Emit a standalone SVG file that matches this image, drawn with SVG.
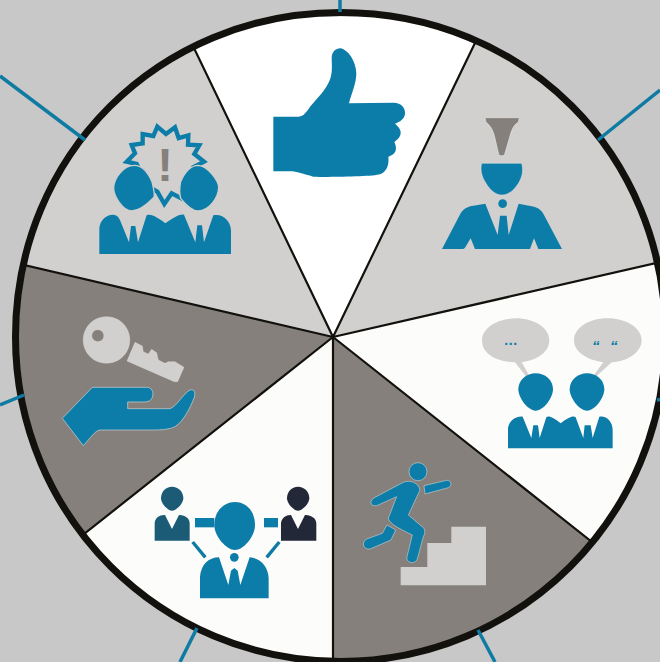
<svg xmlns="http://www.w3.org/2000/svg" width="660" height="662" viewBox="0 0 660 662">
<style>
.t{fill:#0b7da8}
.h{stroke:#e4e4e4;stroke-width:1.5}
.g{fill:#d1d0ce}
.d{fill:#85807b}
.sp{stroke:#12110d;stroke-width:2.2;fill:none}
.sk{stroke:#0f7ba3;stroke-width:3.5;fill:none}
.lab{font-family:'Liberation Sans',sans-serif;font-weight:700}
</style>
<defs>
<clipPath id="disc"><path d="M15.500 337C15.500 155.300 158.500 12.500 340.500 12.500C524.100 12.500 665.500 153.700 665.500 337C665.500 516.200 520 661.500 340.500 661.500C161 661.500 15.500 516.200 15.500 337Z"/></clipPath>
</defs>
<rect width="660" height="662" fill="#c8c8c8"/>
<g id="wheel">
<g clip-path="url(#disc)">
<path d="M333 337L180 19L489 14Z" fill="#fff"/>
<path d="M333 337L489 14L687 0V256Z" fill="#d1d0ce"/>
<path d="M333 337L687 256V561H616Z" fill="#fcfcfa"/>
<path d="M333 337L616 561V680H333Z" fill="#85807b"/>
<path d="M333 337V680H60V553Z" fill="#fcfcfa"/>
<path d="M333 337L60 553H-6V258Z" fill="#85807b"/>
<path d="M333 337L-6 258V0H180V19Z" fill="#d1d0ce"/>
<path class="sp" d="M333 337L180 19M333 337L489 14M333 337L687 256M333 337L616 561M333 337V680M333 337L60 553M333 337L-6 258"/>
</g>
<path d="M15.500 337C15.500 155.300 158.500 12.500 340.500 12.500C524.100 12.500 665.500 153.700 665.500 337C665.500 516.200 520 661.500 340.500 661.500C161 661.500 15.500 516.200 15.500 337Z" fill="none" stroke="#12110d" stroke-width="7"/>
</g>
<g id="connectors">
<path class="sk" d="M340 0V12M598 140L660 90M657 400L660 399.500M478 630L495 662M197 628L180 662M24 395L0 405M85 140L0 76"/>
</g>
<g id="node-thumb" transform="translate(260 40) scale(.3333)">
<path class="t" d="M40 230H115C128 230 135 222 145 208C165 180 190 160 205 130C218 105 216 85 215 55C215 35 228 24 243 25C262 30 288 60 289 100C289 130 275 160 267 190L400 188C425 188 437 205 435 222C433 238 420 245 405 251C418 262 425 272 421 285C418 295 410 300 403 306C410 320 410 335 400 342C395 346 390 348 385 350C388 375 380 395 360 403C340 410 200 412 160 410C130 402 110 394 90 394H40Z"/>
</g>
<g id="node-funnel" transform="translate(430 105) scale(.3333)">
<path class="d" d="M165 38H268L265 52C250 60 245 75 238 100L224 148C220 154 210 154 206 148L195 100C190 75 180 60 168 52Z" stroke="#e4e4e4" stroke-width="2"/>
<path class="t h" d="M155 175H275C282 200 275 225 258 245C240 268 225 270 212 270C195 268 180 255 168 235C155 215 150 195 155 175Z"/>
<circle class="t" cx="218" cy="296" r="13"/>
<path class="t" d="M36 432L92 325C100 310 115 304 130 302L166 296L203 390L210 332H230L236 390L266 296L305 304C325 308 335 316 342 330L396 432H325L312 400L300 432H135L122 400L105 428C102 432 98 432 92 432Z"/>
</g>
<g id="node-talk" transform="translate(470 310) scale(.3333)">
<path class="g" d="M135 157C75 155 36 130 36 91C36 55 80 25 137 25C195 25 238 55 238 91C238 125 205 150 155 157L180 200L172 204Z"/>
<path class="g" d="M400 157C350 150 312 125 312 91C312 55 355 25 412 25C470 25 515 55 515 91C515 125 475 155 425 157L376 202L368 200Z"/>
<path class="t" d="M197 190C225 190 249 210 249 238C249 262 222 302 197 302C172 302 145 262 145 238C145 210 170 190 197 190Z"/>
<path class="t" d="M351 190C379 190 403 210 403 238C403 262 376 302 351 302C326 302 299 262 299 238C299 210 324 190 351 190Z"/>
<path class="t" d="M114 415V355C116 335 135 318 158 320L184 384L190 346H204L209 384L229 322C235 316 250 322 272 340C295 322 310 316 317 322L340 384L344 346H362L368 384L388 320C410 316 428 335 428 360V415Z"/>
</g>
<text class="lab" x="511" y="345" font-size="14" letter-spacing="0.600" fill="#0b7da8" text-anchor="middle">...</text>
<text class="lab" x="592 610" y="351" font-size="15" font-style="italic" fill="#0b7da8">““</text>
<g id="node-run" transform="translate(355 455) scale(.3333)">
<circle class="t h" cx="189" cy="50" r="27"/>
<path class="t h" stroke-linejoin="round" d="M58 128L145 82C165 74 190 82 195 105L160 180L205 218C212 226 210 235 205 245L187 312C182 326 160 328 155 310L172 240C120 215 105 205 100 190L125 125L65 152C45 155 42 138 58 128Z"/>
<path class="t h" d="M207 92L275 76C290 75 292 92 280 98L210 117Z"/>
<path class="t h" d="M96 210L122 225L108 255L45 282C25 285 18 262 35 252L82 235Z"/>
<path class="g" d="M137 336H217V264H289V215H393V391H137Z"/>
</g>
<g id="node-people" transform="translate(145 480) scale(.3333)">
<path fill="#1b5b76" d="M81 20C100 20 115 35 115 55C115 70 95 92 81 92C67 92 48 70 48 55C48 35 62 20 81 20Z"/>
<path fill="#1b5b76" d="M29 182V130C30 112 45 104 60 105L81 147L102 105C120 104 134 115 134 130V182Z"/>
<path fill="#232838" d="M459 20C478 20 493 35 493 55C493 70 473 92 459 92C445 92 426 70 426 55C426 35 440 20 459 20Z"/>
<path fill="#232838" d="M408 182V130C410 112 425 104 438 105L459 147L480 105C498 104 514 115 514 130V182Z"/>
<path class="t" d="M150 114H208V142H150Z"/>
<path class="t" d="M357 114H399V142H357Z"/>
<path class="sk" style="stroke-width:10" d="M143 186L181 232M403 186L365 232"/>
<path class="t" d="M270 66C305 66 330 95 330 135C330 170 295 210 270 210C245 210 208 170 208 135C208 95 235 66 270 66Z"/>
<circle class="t" cx="268" cy="232" r="13"/>
<path class="t" d="M165 355V290C168 255 190 232 222 232L250 315L258 272L268 264L278 272L286 315L314 232C345 234 370 260 371 295V355Z"/>
</g>
<g id="node-alert" transform="translate(80 110) scale(.3333)">
<path d="M232 50L258 72L285 52L296 84L325 76L324 104L358 106L343 132L372 155L340 172L310 268L275 250L253 282L232 245L205 230L170 162L140 155L165 130L155 105L188 100L188 72L220 78Z" fill="#d1d0ce" stroke="#0b7da8" stroke-width="13" stroke-miterlimit="6"/>
<path class="t" stroke="#d1d0ce" stroke-width="4" d="M163 166C190 166 205 190 216 215C222 240 225 255 222 262C200 285 175 303 155 303C130 303 100 260 101 232C102 205 130 166 163 166Z"/>
<path class="t" stroke="#d1d0ce" stroke-width="4" d="M355 166C385 168 416 215 416 232C416 265 385 303 355 303C335 303 318 285 302 265C298 250 298 235 302 215C315 185 335 166 355 166Z"/>
<path class="t" d="M58 432V355C60 330 80 313 100 314C112 314 118 325 122 335L147 397L153 348H166L174 397L200 316C215 310 235 325 256 340C275 328 295 312 312 314L346 397L352 346H366L372 397L400 316C430 310 452 335 453 360V432Z"/>
</g>
<text class="lab" x="165" y="181" font-size="47" fill="#85807b" text-anchor="middle">!</text>
<g id="node-key" transform="translate(55 310) scale(.3333)">
<path class="g" fill-rule="evenodd" stroke="#e4e4e4" stroke-width="1" d="M155 20A70 70 0 1 1 154 20ZM128 59A18 18 0 1 0 129 59Z"/>
<path class="g" stroke="#e4e4e4" stroke-width="1" d="M240 97L262 108L265 125L280 132L290 118L305 128L310 150L330 160L340 155L360 155L387 172L368 215L358 215L216 153Z"/>
<path class="t" stroke="#cfd6da" stroke-width="2" d="M112 232H275C290 232 296 245 293 258C290 272 280 276 265 276H218V296H345C365 290 385 250 405 240C418 236 422 248 418 262C405 295 385 335 360 350C345 358 320 360 290 360H135C120 362 105 385 85 407L22 325Z"/>
</g>
</svg>
